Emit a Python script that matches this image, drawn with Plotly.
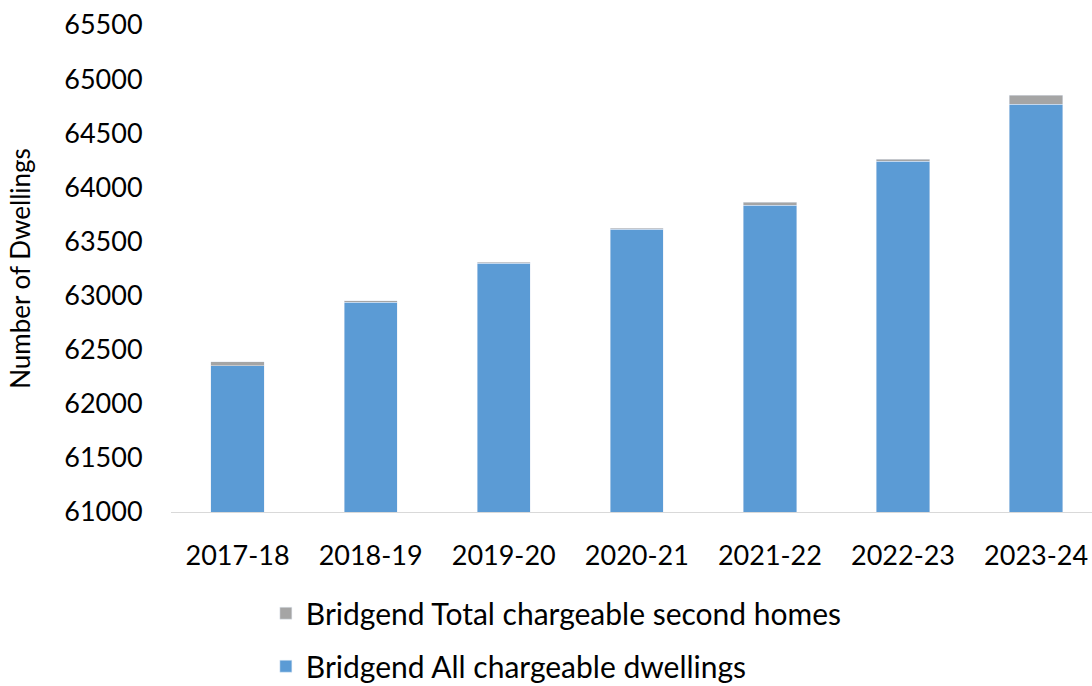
import plotly.graph_objects as go

# Data
years = ["2017-18", "2018-19", "2019-20", "2020-21", "2021-22", "2022-23", "2023-24"]
all_dwellings = [62350, 62940, 63300, 63615, 63835, 64240, 64770]
second_homes = [38, 10, 6, 5, 28, 20, 80]
y_ticks = [61000, 61500, 62000, 62500, 63000, 63500, 64000, 64500, 65000, 65500]

fig = go.Figure()

fig.add_trace(go.Bar(
    x=years, y=all_dwellings,
    name="Bridgend All chargeable dwellings",
    marker=dict(color="#5B9BD5"),
    legendgroup="a",
    legendrank=2,
))

fig.add_trace(go.Bar(
    x=years, y=second_homes,
    name="Bridgend Total chargeable second homes",
    marker=dict(color="#A5A5A5"),
    legendgroup="b",
    legendrank=1,
))

fig.update_layout(
    barmode="stack",
    bargap=0.6,
    width=1092, height=686,
    margin=dict(l=171, r=0, t=25, b=174),
    plot_bgcolor="white",
    paper_bgcolor="white",
    font=dict(family="Lato, Open Sans, sans-serif", color="#000000", size=26),
    showlegend=True,
    legend=dict(
        orientation="v",
        x=0.103, xanchor="left",
        yref="container", y=0.144, yanchor="top",
        traceorder="grouped",
        tracegroupgap=11,
        font=dict(size=30),
        itemwidth=30,
    ),
    xaxis=dict(
        range=[-0.5, 6.42],
        automargin=False,
        ticklabeloverflow="allow",
        showline=True, linecolor="#D9D9D9", linewidth=1,
        tickfont=dict(size=27),
        ticks="outside", ticklen=20, tickcolor="white",
    ),
    yaxis=dict(
        range=[61000, 65500],
        automargin=False,
        ticklabeloverflow="allow",
        tickvals=y_ticks,
        tickformat="d",
        showgrid=False,
        zeroline=False,
        tickfont=dict(size=27),
        ticks="outside", ticklen=22, tickcolor="white",
        title=dict(text="Number of Dwellings", font=dict(size=26), standoff=26),
    ),
)

# drop the default 8px page margin so the figure sits at the window's corner
fig.write_html(
    "out.html",
    config={"displayModeBar": False},
    post_script="document.body.style.margin='0';",
)
